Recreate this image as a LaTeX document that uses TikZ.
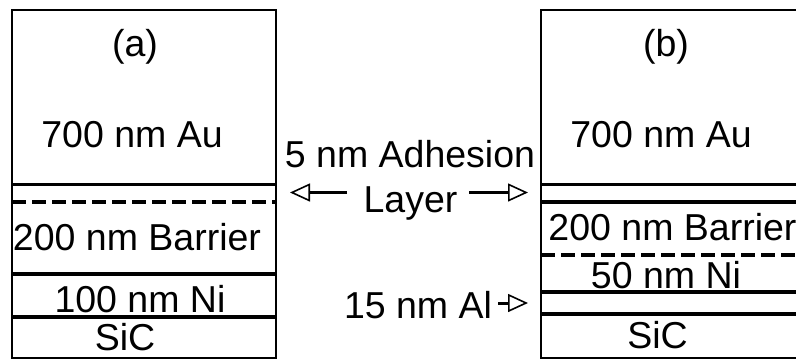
\documentclass[tikz,border=0pt]{standalone}
\usepackage{fontspec}
\setmainfont{Liberation Sans}
\usetikzlibrary{arrows.meta}
\begin{document}
\begin{tikzpicture}[x=1pt,y=-1pt,
  lbl/.style={anchor=base,inner sep=0pt,font=\fontsize{37.5}{40}\selectfont},
  boxline/.style={line width=1.6pt},
  thickline/.style={line width=3.6pt},
  dashline/.style={line width=3.6pt,dash pattern=on 14pt off 6pt},
  arr/.style={line width=3pt,-{Triangle[open,length=20pt,width=18pt,line width=1.6pt]}}]
\useasboundingbox (0,0) rectangle (796,359);
% left stack
\draw[boxline] (12,10) rectangle (276,358);
\draw[thickline] (12,184.5) -- (276,184.5);
\draw[dashline] (12,201.7) -- (276,201.7);
\draw[thickline] (12,273.7) -- (276,273.7);
\draw[thickline] (12,316.7) -- (276,316.7);
\node[lbl] (la) at (135,56) {(a)};
\node[lbl] (lau) at (132,147) {700 nm Au};
\node[lbl] (lbar) at (137,250) {200 nm Barrier};
\node[lbl] (lni) at (140,312) {100 nm Ni};
\node[lbl] (lsic) at (125,350) {SiC};
% right stack
\draw[boxline] (541,10) rectangle (805,358);
\draw[thickline] (541,184.3) -- (805,184.3);
\draw[thickline] (541,201.7) -- (805,201.7);
\draw[dashline] (541,255) -- (805,255);
\draw[thickline] (541,291.7) -- (805,291.7);
\draw[thickline] (541,314) -- (805,314);
\node[lbl] (rb) at (666,56) {(b)};
\node[lbl] (rau) at (661,147) {700 nm Au};
\node[lbl] (rbar) at (672.5,240) {200 nm Barrier};
\node[lbl] (rni) at (666,288) {50 nm Ni};
\node[lbl] (rsic) at (657.5,348) {SiC};
% middle labels
\node[lbl] (adh) at (410,167) {5 nm Adhesion};
\node[lbl] (lay) at (410.5,212) {Layer};
\node[lbl] (al) at (418,318) {15 nm Al};
\coordinate (lfrom) at (347,192.5);
\coordinate (lto) at (290,192.5);
\coordinate (rfrom) at (469,192.5);
\coordinate (rto) at (528,192.5);
\coordinate (afrom) at (498,303);
\coordinate (ato) at (528,303);
\draw[arr] (lfrom) -- (lto);
\draw[arr] (rfrom) -- (rto);
\draw[arr] (afrom) -- (ato);
\end{tikzpicture}
\end{document}
